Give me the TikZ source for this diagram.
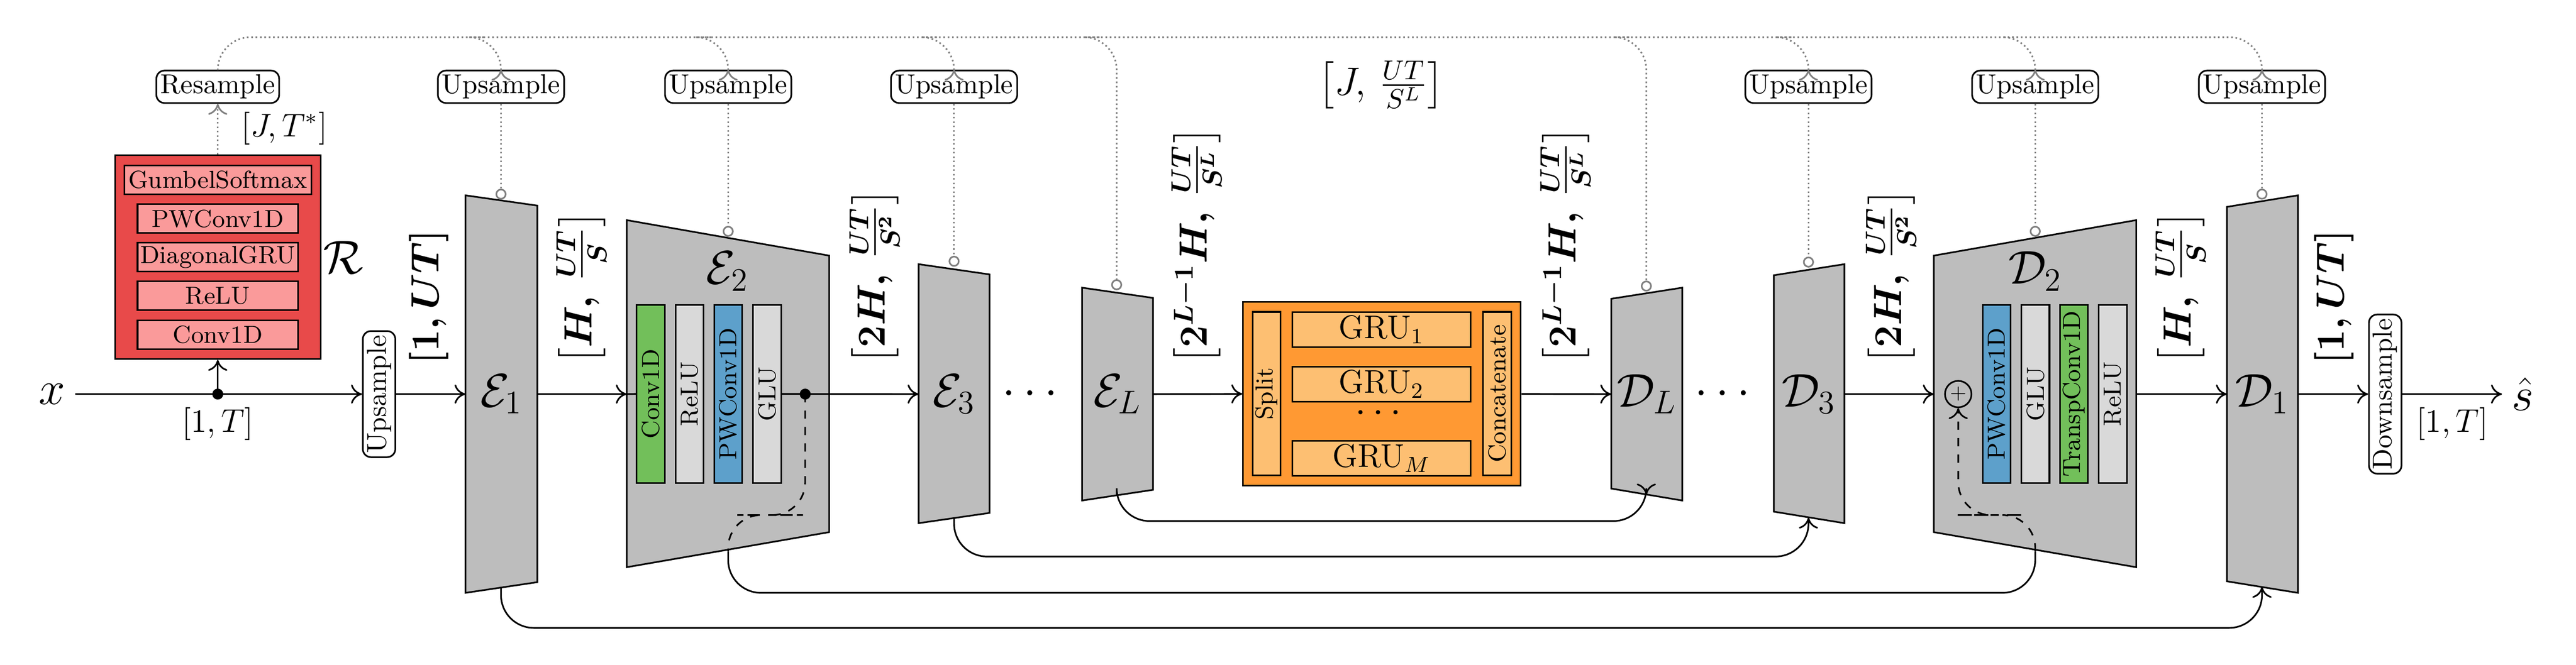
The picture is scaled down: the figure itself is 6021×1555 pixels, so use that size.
\documentclass[tikz,border=0pt]{standalone}
\usepackage{amsmath}
\usetikzlibrary{arrows.meta}
\definecolor{rout}{HTML}{E84A4A}
\definecolor{rin}{HTML}{FA9A9A}
\definecolor{tg}{HTML}{BDBDBD}
\definecolor{bgreen}{HTML}{72BF5A}
\definecolor{blgray}{HTML}{D9D9D9}
\definecolor{bblue}{HTML}{5DA0CB}
\definecolor{oout}{HTML}{FF9933}
\definecolor{oin}{HTML}{FDBF72}
\begin{document}
\begin{tikzpicture}[x=0.0055cm,y=-0.0055cm,
  line/.style={semithick},
  arr/.style={semithick,-{To[length=4pt,width=7pt]}},
  dotl/.style={densely dotted,gray,semithick,rounded corners=12pt},
  dota/.style={dotl,-{To[length=4pt,width=7pt]}},
  dotc/.style={dotl,-{Circle[open,length=4pt,width=4pt]}},
  ups/.style={draw,semithick,rounded corners=3pt,inner sep=1.5pt,fill=white,minimum height=0.37cm,font=\normalsize},
  trap/.style={draw,semithick,fill=tg},
  bar/.style={draw,semithick,rotate=90,minimum width=2.29cm,minimum height=0.36cm,inner sep=0pt,font=\small},
  rbox/.style={draw,semithick,fill=rin,minimum height=0.37cm,inner sep=0pt,font=\small},
  gru/.style={draw,semithick,fill=oin,minimum width=2.29cm,minimum height=0.45cm,inner sep=0pt,font=\large},
  obar/.style={draw,semithick,fill=oin,rotate=90,minimum width=2.1cm,minimum height=0.36cm,inner sep=0pt,font=\small},
  big/.style={font=\LARGE},
  dim/.style={font=\large},
  rdim/.style={font=\Large\boldmath,rotate=90,anchor=west}]
\useasboundingbox (0,0) rectangle (6021,1555);

% ---------- input & R ----------
\node[big] (x) at (122,922) {$x$};
\coordinate (j) at (509,922);
\fill (j) circle (2pt);
\node[draw,semithick,fill=rout,minimum width=2.64cm,minimum height=2.62cm,inner sep=0pt] (R) at (509,601.5) {};
\node[rbox,minimum width=2.40cm] (gs) at (509,420.5) {GumbelSoftmax};
\node[rbox,minimum width=2.06cm] (pw) at (509,511.5) {PWConv1D};
\node[rbox,minimum width=2.06cm] (dg) at (509,601.5) {DiagonalGRU};
\node[rbox,minimum width=2.06cm] (rl) at (509,692) {ReLU};
\node[rbox,minimum width=2.06cm] (cv) at (509,783) {Conv1D};
\node[big] at (802,602) {$\mathcal{R}$};
\node[dim] at (509,992) {$[1,T]$};
\node[dim] at (665,300) {$[J,T^{*}]$};
\node[ups] (res) at (509,203) {Resample};
\node[ups,rotate=90] (upin) at (886,922) {Upsample};
\draw[line] (x.east) -- (j);
\draw[arr] (j) -- (upin.north);
\draw[arr] (j) -- (R.south);
\draw[dota] (R.north) -- (res.south);
\node[rdim] at (1002,875) {$[1,UT]$};

% ---------- encoder ----------
\draw[trap] (1088,457) -- (1256,481) -- (1256,1362) -- (1088,1387) -- cycle;
\node[big] (e1) at (1172,922) {$\mathcal{E}_1$};
\coordinate (e1in) at (1088,922); \coordinate (e1out) at (1256,922);
\coordinate (e1top) at (1171,467); \coordinate (e1bot) at (1171,1375);
\draw[arr] (upin.south) -- (e1in);
\node[rdim] at (1359,875) {$\left[H,\,\frac{UT}{S}\right]$};

\draw[trap] (1465,515) -- (1938,598) -- (1938,1245) -- (1465,1327) -- cycle;
\node[big] (e2) at (1700,635) {$\mathcal{E}_2$};
\coordinate (e2in) at (1465,922); \coordinate (e2top) at (1702,554);
\draw[arr] (e1out) -- (e2in);
\node[bar,fill=bgreen] (b1) at (1521,921.5) {Conv1D};
\node[bar,fill=blgray] (b2) at (1612,921.5) {ReLU};
\node[bar,fill=bblue] (b3) at (1702,921.5) {PWConv1D};
\node[bar,fill=blgray] (b4) at (1793,921.5) {GLU};
\draw[line] (e2in) -- (b1.north);
\coordinate (d2) at (1882,922); \fill (d2) circle (2pt);
\node[rdim] at (2044,875) {$\left[2H,\,\frac{UT}{S^2}\right]$};

\draw[trap] (2147,618) -- (2313,642) -- (2313,1200) -- (2147,1224) -- cycle;
\node[big] (e3) at (2230,922) {$\mathcal{E}_3$};
\coordinate (e3in) at (2147,922); \coordinate (e3top) at (2230,624); \coordinate (e3bot) at (2230,1212);
\draw[arr] (b4.south) -- (e3in);
\node[big] at (2417,922) {$\cdots$};

\draw[trap] (2529,673) -- (2695,697) -- (2695,1146) -- (2529,1171) -- cycle;
\node[big] (eL) at (2612,922) {$\mathcal{E}_L$};
\coordinate (eLtop) at (2610,679); \coordinate (eLbot) at (2610,1159); \coordinate (eLout) at (2695,922);
\node[rdim] at (2797,875) {$\left[2^{L-1}H,\,\frac{UT}{S^L}\right]$};

% ---------- bottleneck ----------
\node[draw,semithick,fill=oout,minimum width=3.564cm,minimum height=2.36cm,inner sep=0pt] (O) at (3230,921.5) {};
\node[obar] (split) at (2960.5,921) {Split};
\node[obar] (cat) at (3499.5,921) {Concatenate};
\node[gru] (g1) at (3229,771) {GRU$_1$};
\node[gru] (g2) at (3229,898.5) {GRU$_2$};
\node[font=\Large] at (3229,968) {$\cdots$};
\node[gru] (gm) at (3229,1072) {GRU$_M$};
\draw[arr] (eLout) -- (O.west);
\node[font=\Large] at (3228,198) {$\left[J,\,\frac{UT}{S^L}\right]$};
\node[rdim] at (3659,875) {$\left[2^{L-1}H,\,\frac{UT}{S^L}\right]$};

% ---------- decoder ----------
\draw[trap] (3766,699) -- (3932,673) -- (3932,1171) -- (3766,1143) -- cycle;
\node[big] (dL) at (3849,922) {$\mathcal{D}_L$};
\coordinate (dLin) at (3766,922); \coordinate (dLtop) at (3848,682); \coordinate (dLbot) at (3848,1157);
\draw[arr] (O.east) -- (dLin);
\node[big] at (4035,922) {$\cdots$};

\draw[trap] (4146,644) -- (4311,618) -- (4311,1224) -- (4146,1197) -- cycle;
\node[big] (d3) at (4228,922) {$\mathcal{D}_3$};
\coordinate (d3out) at (4311,922); \coordinate (d3top) at (4227,626); \coordinate (d3bot) at (4227,1211);
\node[rdim] at (4420,875) {$\left[2H,\,\frac{UT}{S^2}\right]$};

\draw[trap] (4520,598) -- (4993,515) -- (4993,1327) -- (4520,1245) -- cycle;
\node[big] (dd2) at (4757,635) {$\mathcal{D}_2$};
\coordinate (d2in) at (4520,922); \coordinate (d2out) at (4993,922); \coordinate (d2top) at (4757,554);
\node[draw,semithick,circle,fill=tg,minimum size=0.34cm,inner sep=0pt] (plus) at (4577,922) {\scriptsize$+$};
\node[bar,fill=bblue] (c1) at (4667,921.5) {PWConv1D};
\node[bar,fill=blgray] (c2) at (4757.5,921.5) {GLU};
\node[bar,fill=bgreen] (c3) at (4847.5,921.5) {TranspConv1D};
\node[bar,fill=blgray] (c4) at (4938.5,921.5) {ReLU};
\draw[arr] (d3out) -- (d2in);
\node[rdim] at (5097,875) {$\left[H,\,\frac{UT}{S}\right]$};

\draw[trap] (5205,484) -- (5371,457) -- (5371,1387) -- (5205,1360) -- cycle;
\node[big] (d1) at (5288,922) {$\mathcal{D}_1$};
\coordinate (d1in) at (5205,922); \coordinate (d1out) at (5371,922); \coordinate (d1top) at (5287,467); \coordinate (d1bot) at (5287,1373);
\draw[arr] (d2out) -- (d1in);
\node[rdim] at (5456,875) {$[1,UT]$};
\node[ups,rotate=90] (down) at (5575,922) {Downsample};
\draw[arr] (d1out) -- (down.north);
\node[big] (s) at (5896,922) {$\hat{s}$};
\draw[arr] (down.south) -- (s.west);
\node[dim] at (5732,992) {$[1,T]$};

% ---------- skip connections ----------
\draw[arr,rounded corners=12pt] (eLbot) |- (3000,1219) -| (dLbot);
\draw[arr,rounded corners=12pt] (e3bot) |- (3000,1302) -| (d3bot);
\draw[arr,rounded corners=12pt] (e1bot) |- (3000,1469) -| (d1bot);
\coordinate (k1) at (1702,1290);
\draw[semithick,dashed,rounded corners=12pt] (d2) |- (1800,1205) -| (k1);
\coordinate (k2) at (4757,1290);
\draw[semithick,rounded corners=12pt] (k1) |- (3000,1387) -| (k2);
\draw[semithick,dashed,rounded corners=12pt,-{To[length=4pt,width=7pt]}] (k2) |- (4650,1205) -| (plus.south);

% ---------- upsample branches ----------
\node[ups] (u1) at (1171,203) {Upsample};
\node[ups] (u2) at (1702,203) {Upsample};
\node[ups] (u3) at (2230,203) {Upsample};
\node[ups] (u4) at (4227,203) {Upsample};
\node[ups] (u5) at (4757,203) {Upsample};
\node[ups] (u6) at (5287,203) {Upsample};
\draw[dota] (res.north) |- (3000,87) -| (u6.north);
\foreach \u/\xx in {u1/1171,u2/1702,u3/2230,u4/4227,u5/4757}
  \draw[dota] (\xx-40,87) -| (\u.north);
\draw[dotc] (2570,87) -| (eLtop);
\draw[dotc] (3808,87) -| (dLtop);
\draw[dotc] (u1.south) -- (e1top);
\draw[dotc] (u2.south) -- (e2top);
\draw[dotc] (u3.south) -- (e3top);
\draw[dotc] (u4.south) -- (d3top);
\draw[dotc] (u5.south) -- (d2top);
\draw[dotc] (u6.south) -- (d1top);
\end{tikzpicture}
\end{document}
